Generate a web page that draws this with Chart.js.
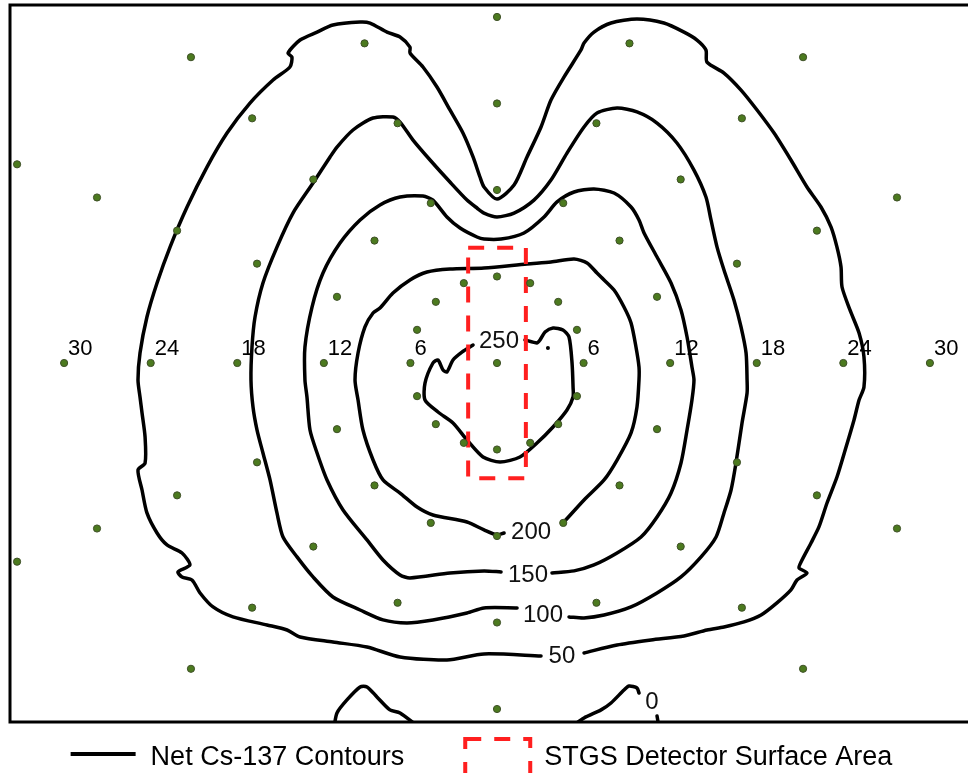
<!DOCTYPE html>
<html>
<head>
<meta charset="utf-8">
<title>Net Cs-137 Contours</title>
<script src="https://cdn.jsdelivr.net/npm/chart.js@4.4.1/dist/chart.umd.min.js"></script>
<style>
  html, body { margin: 0; padding: 0; background: #ffffff; }
  #wrap { width: 968px; height: 773px; }
</style>
</head>
<body>
<div id="wrap"><canvas id="map" width="968" height="773"></canvas></div>
<script>
// All positions are in inches from the detector centre (x to the right, y up).

// Sampling locations, grouped by ring radius
const samplesCentre = [[0, 0]];
const samplesRing6 = [[0,6],[2.30,5.54],[4.24,4.24],[5.54,2.30],[6,0],[5.54,-2.30],[4.24,-4.24],[2.30,-5.54],
  [0,-6],[-2.30,-5.54],[-4.24,-4.24],[-5.54,-2.30],[-6,0],[-5.54,2.30],[-4.24,4.24],[-2.30,5.54]];
const samplesRing12 = [[0,12],[4.59,11.09],[8.49,8.49],[11.09,4.59],[12,0],[11.09,-4.59],[8.49,-8.49],[4.59,-11.09],
  [0,-12],[-4.59,-11.09],[-8.49,-8.49],[-11.09,-4.59],[-12,0],[-11.09,4.59],[-8.49,8.49],[-4.59,11.09]];
const samplesRing18 = [[0,18],[6.89,16.63],[12.73,12.73],[16.63,6.89],[18,0],[16.63,-6.89],[12.73,-12.73],[6.89,-16.63],
  [0,-18],[-6.89,-16.63],[-12.73,-12.73],[-16.63,-6.89],[-18,0],[-16.63,6.89],[-12.73,12.73],[-6.89,16.63]];
const samplesRing24 = [[0,24],[9.18,22.17],[16.97,16.97],[22.17,9.18],[24,0],[22.17,-9.18],[16.97,-16.97],
  [0,-24],[-16.97,-16.97],[-22.17,-9.18],[-24,0],[-22.17,9.18],[-16.97,16.97],[-9.18,22.17]];
const samplesRing30 = [[21.21,21.21],[27.72,11.48],[30,0],[27.72,-11.48],[21.21,-21.21],
  [-21.21,-21.21],[-27.72,-11.48],[-30,0],[-27.72,11.48],[-21.21,21.21]];
const samplesRing36 = [[-33.26,13.78],[-33.26,-13.78]];

// Ring distance labels along the horizontal centre line
const ringTicks = [-30, -24, -18, -12, -6, 6, 12, 18, 24, 30];

// Net Cs-137 contour traces (each open at its label)
const contour50 = [[3.05,-20.32],[-0.90,-20.18],[-3.47,-20.60],[-6.72,-20.39],[-9.01,-19.70],[-11.37,-19.35],[-13.65,-19.00],
  [-14.55,-18.52],[-15.94,-18.17],[-18.30,-17.61],[-19.68,-16.92],[-20.58,-15.95],[-21.14,-15.05],[-21.83,-14.84],
  [-22.11,-14.49],[-21.28,-14.01],[-21.83,-13.18],[-22.87,-12.62],[-23.56,-11.79],[-24.26,-10.40],[-24.60,-8.81],
  [-24.88,-7.42],[-24.39,-6.94],[-24.39,-5.13],[-24.60,-3.47],[-24.74,-2.36],[-24.88,-1.18],[-24.74,0.69],
  [-24.26,3.19],[-23.56,5.55],[-22.66,8.04],[-21.48,10.82],[-20.10,13.59],[-18.71,15.95],[-17.12,18.03],
  [-15.52,19.63],[-14.35,20.53],[-14.21,21.22],[-14.48,21.50],[-13.65,22.40],[-12.47,22.95],[-11.37,23.44],
  [-9.49,23.65],[-8.80,23.58],[-7.62,22.95],[-6.72,22.61],[-6.03,21.91],[-6.03,21.50],[-5.13,20.53],[-4.16,19.14],
  [-3.26,17.55],[-2.36,15.95],[-1.66,14.29],[-1.18,12.90],[-0.90,12.21],[0,11.37],[1.18,12.34],[2.08,14.29],
  [3.05,16.37],[3.74,18.24],[4.64,19.83],[5.82,21.71],[6.03,22.19],[6.72,22.95],[7.90,23.58],[9.70,23.86],
  [11.57,23.58],[12.96,22.95],[13.86,22.40],[14.48,21.71],[14.55,20.87],[15.73,20.11],[16.91,18.93],[18.02,17.55],
  [19.20,15.95],[20.37,14.08],[21.48,12.21],[22.45,10.82],[23.15,9.43],[23.56,8.04],[23.84,6.66],[23.91,5.27],
  [24.46,3.68],[25.09,2.08],[25.43,0.42],[25.43,-1.66],[25.09,-2.57],[24.74,-3.95],[24.19,-5.83],[23.56,-7.91],
  [22.87,-9.71],[22.31,-11.37],[21.76,-12.48],[21.07,-13.80],[20.93,-14.22],[21.48,-14.56],[20.79,-15.05],
  [20.37,-15.74],[19.40,-16.64],[18.30,-17.48],[17.12,-17.96],[15.73,-18.31],[14.55,-18.52],[12.96,-18.93],
  [10.67,-19.21],[8.32,-19.56],[6.03,-20.11]];

const contour100 = [[1.39,-16.99],[-0.90,-16.99],[-2.08,-17.34],[-4.44,-17.82],[-6.24,-18.03],[-7.90,-17.82],[-9.49,-17.13],
  [-11.37,-16.23],[-12.75,-14.84],[-13.86,-13.45],[-14.83,-12.07],[-15.25,-10.40],[-15.73,-8.11],[-16.22,-6.24],
  [-16.63,-4.65],[-16.91,-3.05],[-17.05,-1.18],[-16.98,1.11],[-16.77,3.19],[-16.22,5.55],[-15.25,8.04],[-14.14,10.40],
  [-12.75,12.48],[-11.57,14.29],[-11.09,14.98],[-9.98,16.16],[-8.59,16.99],[-7.21,17.06],[-6.72,16.71],[-5.82,15.46],
  [-4.64,14.08],[-3.26,12.55],[-2.08,11.30],[-1.39,10.75],[-0.90,10.40],[0,10.13],[1.18,10.40],[2.56,11.30],
  [3.74,12.69],[4.85,14.56],[6.03,16.37],[6.93,17.34],[8.32,17.68],[9.70,17.41],[11.09,16.64],[12.47,15.26],
  [13.65,13.38],[14.48,11.51],[14.83,9.92],[15.25,8.04],[15.73,6.45],[16.42,4.37],[16.91,2.50],[17.26,0.69],
  [17.33,-1.18],[17.33,-2.08],[16.98,-4.16],[16.56,-6.94],[16.22,-8.81],[15.73,-10.40],[15.18,-12.07],[14.14,-13.45],
  [12.75,-14.84],[11.09,-15.95],[9.29,-16.92],[7.42,-17.48],[6.03,-17.68],[4.99,-17.61]];

const contour150 = [[0.28,-14.49],[-0.90,-14.42],[-3.26,-14.56],[-6.03,-14.91],[-6.72,-14.70],[-7.90,-13.66],[-9.01,-12.27],
  [-10.67,-10.19],[-11.78,-8.11],[-12.47,-6.24],[-12.96,-4.65],[-13.17,-2.36],[-13.31,-1.18],[-13.31,1.11],
  [-12.82,3.88],[-12.06,6.24],[-10.88,8.32],[-9.49,9.92],[-8.11,10.96],[-6.72,11.51],[-5.13,11.58],[-4.44,11.30],
  [-3.47,10.13],[-2.56,9.36],[-1.39,8.74],[-0.90,8.60],[0.28,8.60],[1.87,9.02],[3.26,10.13],[4.16,11.17],
  [5.34,11.86],[6.72,12.07],[8.11,11.79],[9.29,10.82],[9.84,9.92],[10.19,9.02],[11.09,7.35],[12.06,5.55],
  [12.75,3.68],[13.17,1.80],[13.51,-0.28],[13.65,-1.18],[13.51,-2.57],[13.17,-4.65],[12.75,-6.94],[12.06,-9.02],
  [11.09,-10.68],[9.98,-12.07],[8.32,-13.18],[6.72,-14.01],[5.34,-14.42],[3.81,-14.56]];

const contour200 = [[0.49,-11.79],[0,-11.93],[-0.90,-11.58],[-2.08,-11.03],[-4.44,-10.54],[-5.54,-9.99],[-6.72,-9.02],
  [-7.90,-8.11],[-8.59,-6.73],[-9.29,-4.65],[-9.63,-2.57],[-9.84,-1.18],[-9.63,0.69],[-9.15,2.50],[-8.59,3.47],
  [-8.11,3.81],[-7.21,4.85],[-6.03,5.76],[-4.85,6.31],[-3.26,6.52],[-0.90,6.59],[2.08,6.87],[3.74,7.00],[5.34,7.21],
  [6.24,6.94],[6.93,6.24],[7.21,5.96],[8.11,5.06],[8.80,3.88],[9.29,2.77],[9.63,1.11],[9.84,-0.28],[9.84,-1.18],
  [9.70,-3.05],[9.29,-4.85],[8.32,-6.73],[7.42,-8.11],[6.03,-9.50],[4.64,-11.03]];

const contour250 = [[1.94,1.60],[2.77,1.39],[2.98,1.60],[3.33,2.15],[3.88,2.43],[4.57,2.29],[4.99,1.80],[5.20,0],
  [5.27,-1.66],[5.27,-2.36],[4.85,-3.26],[3.88,-4.44],[2.77,-5.55],[1.59,-6.52],[0.21,-6.87],[-0.97,-6.52],
  [-2.08,-5.34],[-3.05,-4.16],[-4.09,-3.40],[-4.99,-2.57],[-4.99,-1.39],[-4.44,0],[-4.09,0.21],[-3.74,-0.49],
  [-3.47,-0.62],[-3.05,0.21],[-2.43,0.76],[-1.66,1.25]];
const contour250Dot = [[3.53, 1.04]];

const contourZeroWest = [[-11.30,-25.31],[-11.09,-24.27],[-10.40,-23.37],[-9.49,-22.47],[-9.01,-22.47],[-8.32,-23.16],
  [-7.42,-24.06],[-6.72,-24.27],[-5.34,-25.31]];
const contourZeroEast = [[5.06,-25.31],[6.03,-24.62],[7.21,-24.06],[7.90,-23.58],[8.80,-22.68],[9.15,-22.40],
  [9.70,-22.54],[9.84,-22.89]];
const contourZeroTail = [[11.09,-24.48],[11.23,-25.31]];

// Contour level labels and where they sit
const contourLevels = ['250', '200', '150', '100', '50', '0'];
const contourLabelX = [0.14, 2.36, 2.15, 3.19, 4.50, 10.74];
const contourLabelY = [1.60, -11.65, -14.63, -17.41, -20.25, -23.44];

// STGS detector footprint (4 in x 16 in)
const detectorOutline = [[-2, 8], [2, 8], [2, -8], [-2, -8], [-2, 8]];

const legendLabels = ['Net Cs-137 Contours', 'STGS Detector Surface Area'];

// ---------------------------------------------------------------------------
const FONT = '"Liberation Sans", Arial, Helvetica, sans-serif';
const toXY = pts => pts.map(([x, y]) => ({ x, y }));

const allSamples = [].concat(samplesCentre, samplesRing6, samplesRing12, samplesRing18,
  samplesRing24, samplesRing30, samplesRing36);

const contourStyle = {
  showLine: true, fill: false, borderColor: '#000000', borderWidth: 3.5,
  pointRadius: 0, tension: 0.25, borderJoinStyle: 'round', borderCapStyle: 'round',
  clip: 0, order: 3
};

const contourSets = [contour50, contour100, contour150, contour200, contour250,
  contourZeroWest, contourZeroEast, contourZeroTail];

const datasets = [
  {
    label: 'Sample locations', data: toXY(allSamples), showLine: false,
    pointRadius: 3.6, pointBackgroundColor: '#4c7a1f', pointBorderColor: '#3e4f27',
    pointBorderWidth: 1, order: 1
  },
  {
    label: legendLabels[1], data: toXY(detectorOutline), showLine: true, fill: false,
    borderColor: '#ff1f1f', borderWidth: 4, borderDash: [16, 13], borderCapStyle: 'butt',
    pointRadius: 0, tension: 0, clip: 0, order: 2
  },
  {
    label: '', data: toXY(contour250Dot), showLine: false,
    pointRadius: 2, pointBackgroundColor: '#000', pointBorderWidth: 0, order: 3
  }
].concat(contourSets.map((pts, i) => Object.assign({}, contourStyle, {
  label: i === 0 ? legendLabels[0] : '', data: toXY(pts)
})));

// Frame on the left, top and bottom of the plotting area
const framePlugin = {
  id: 'frame',
  afterDraw(chart) {
    const { ctx, chartArea: a } = chart;
    ctx.save();
    ctx.strokeStyle = '#000';
    ctx.lineWidth = 3;
    ctx.lineCap = 'square';
    ctx.beginPath();
    ctx.moveTo(a.right + 2, a.top);
    ctx.lineTo(a.left, a.top);
    ctx.lineTo(a.left, a.bottom);
    ctx.lineTo(a.right + 2, a.bottom);
    ctx.stroke();
    ctx.restore();
  }
};

// Contour level labels and ring distance labels
const labelPlugin = {
  id: 'labels',
  afterDatasetsDraw(chart) {
    const { ctx, scales: { x, y } } = chart;
    ctx.save();
    ctx.fillStyle = '#111';
    ctx.font = '24px ' + FONT;
    ctx.textAlign = 'center';
    ctx.textBaseline = 'middle';
    contourLevels.forEach((t, i) => {
      ctx.fillText(t, x.getPixelForValue(contourLabelX[i]), y.getPixelForValue(contourLabelY[i]) + 1);
    });
    ctx.fillStyle = '#000';
    ctx.font = '22px ' + FONT;
    ctx.textAlign = 'left';
    const y0 = y.getPixelForValue(0);
    ringTicks.forEach(v => {
      ctx.fillText(String(Math.abs(v)), x.getPixelForValue(v) + 4, y0 - 14);
    });
    ctx.restore();
  }
};

// Legend row below the plotting area
const legendPlugin = {
  id: 'legendRow',
  afterDraw(chart) {
    const { ctx, chartArea: a, width } = chart;
    const line = chart.data.datasets.find(d => d.label === legendLabels[0]);
    const box = chart.data.datasets.find(d => d.label === legendLabels[1]);
    ctx.save();
    ctx.font = '27px ' + FONT;
    const symW = 65, gap = 15, itemGap = 61;
    const w0 = ctx.measureText(legendLabels[0]).width;
    const w1 = ctx.measureText(legendLabels[1]).width;
    const total = symW + gap + w0 + itemGap + symW + gap + w1;
    let cx = (width - total) / 2 - 2;
    const base = a.bottom + 43;

    ctx.strokeStyle = line.borderColor;
    ctx.lineWidth = 4;
    ctx.beginPath();
    ctx.moveTo(cx, base - 11);
    ctx.lineTo(cx + symW, base - 11);
    ctx.stroke();
    ctx.fillStyle = '#000';
    ctx.textBaseline = 'alphabetic';
    ctx.fillText(legendLabels[0], cx + symW + gap, base);

    cx += symW + gap + w0 + itemGap;
    ctx.strokeStyle = box.borderColor;
    ctx.lineWidth = box.borderWidth;
    ctx.setLineDash(box.borderDash);
    ctx.strokeRect(cx, a.bottom + 17, symW, 56);
    ctx.setLineDash([]);
    ctx.fillText(legendLabels[1], cx + symW + gap - 1, base);
    ctx.restore();
  }
};

new Chart(document.getElementById('map'), {
  type: 'scatter',
  data: { datasets },
  options: {
    responsive: false,
    animation: false,
    events: [],
    layout: { autoPadding: false, padding: { left: 10, top: 5, right: 0, bottom: 51 } },
    scales: {
      x: { type: 'linear', min: -33.75, max: 32.64, display: false },
      y: { type: 'linear', min: -24.90, max: 24.83, display: false }
    },
    plugins: { legend: { display: false }, tooltip: { enabled: false }, title: { display: false } }
  },
  plugins: [labelPlugin, framePlugin, legendPlugin]
});
</script>
</body>
</html>
